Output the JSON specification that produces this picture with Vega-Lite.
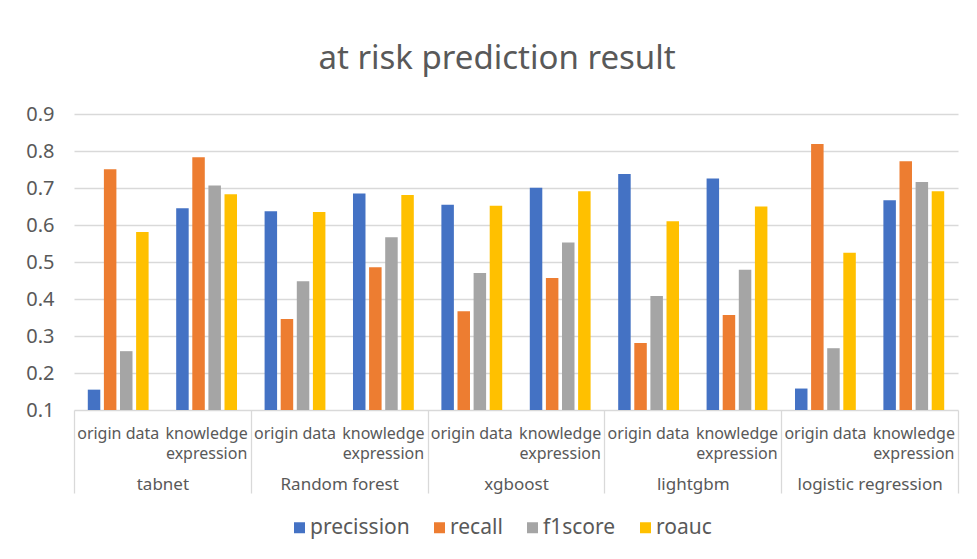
{
  "$schema": "https://vega.github.io/schema/vega-lite/v6.json",
  "width": 884,
  "height": 296,
  "autosize": {"type": "none"},
  "padding": {"left": 74, "top": 114, "right": 19, "bottom": 149},
  "background": "white",
  "config": {
    "font": "Noto Sans",
    "view": {"stroke": null}
  },
  "title": {
    "text": "at risk prediction result",
    "fontSize": 33,
    "fontWeight": "normal",
    "color": "#595959",
    "font": "Noto Sans",
    "anchor": "middle",
    "offset": 28,
    "dx": -19
  },
  "data": {
    "values": [
      {"model": "tabnet", "category": "tabnet|origin data", "metric": "precission", "value": 0.155},
      {"model": "tabnet", "category": "tabnet|origin data", "metric": "recall", "value": 0.751},
      {"model": "tabnet", "category": "tabnet|origin data", "metric": "f1score", "value": 0.259},
      {"model": "tabnet", "category": "tabnet|origin data", "metric": "roauc", "value": 0.581},
      {"model": "tabnet", "category": "tabnet|knowledge expression", "metric": "precission", "value": 0.645},
      {"model": "tabnet", "category": "tabnet|knowledge expression", "metric": "recall", "value": 0.783},
      {"model": "tabnet", "category": "tabnet|knowledge expression", "metric": "f1score", "value": 0.707},
      {"model": "tabnet", "category": "tabnet|knowledge expression", "metric": "roauc", "value": 0.683},
      {"model": "Random forest", "category": "Random forest|origin data", "metric": "precission", "value": 0.637},
      {"model": "Random forest", "category": "Random forest|origin data", "metric": "recall", "value": 0.346},
      {"model": "Random forest", "category": "Random forest|origin data", "metric": "f1score", "value": 0.448},
      {"model": "Random forest", "category": "Random forest|origin data", "metric": "roauc", "value": 0.635},
      {"model": "Random forest", "category": "Random forest|knowledge expression", "metric": "precission", "value": 0.685},
      {"model": "Random forest", "category": "Random forest|knowledge expression", "metric": "recall", "value": 0.486},
      {"model": "Random forest", "category": "Random forest|knowledge expression", "metric": "f1score", "value": 0.567},
      {"model": "Random forest", "category": "Random forest|knowledge expression", "metric": "roauc", "value": 0.681},
      {"model": "xgboost", "category": "xgboost|origin data", "metric": "precission", "value": 0.655},
      {"model": "xgboost", "category": "xgboost|origin data", "metric": "recall", "value": 0.367},
      {"model": "xgboost", "category": "xgboost|origin data", "metric": "f1score", "value": 0.470},
      {"model": "xgboost", "category": "xgboost|origin data", "metric": "roauc", "value": 0.652},
      {"model": "xgboost", "category": "xgboost|knowledge expression", "metric": "precission", "value": 0.701},
      {"model": "xgboost", "category": "xgboost|knowledge expression", "metric": "recall", "value": 0.457},
      {"model": "xgboost", "category": "xgboost|knowledge expression", "metric": "f1score", "value": 0.553},
      {"model": "xgboost", "category": "xgboost|knowledge expression", "metric": "roauc", "value": 0.691},
      {"model": "lightgbm", "category": "lightgbm|origin data", "metric": "precission", "value": 0.738},
      {"model": "lightgbm", "category": "lightgbm|origin data", "metric": "recall", "value": 0.281},
      {"model": "lightgbm", "category": "lightgbm|origin data", "metric": "f1score", "value": 0.408},
      {"model": "lightgbm", "category": "lightgbm|origin data", "metric": "roauc", "value": 0.610},
      {"model": "lightgbm", "category": "lightgbm|knowledge expression", "metric": "precission", "value": 0.726},
      {"model": "lightgbm", "category": "lightgbm|knowledge expression", "metric": "recall", "value": 0.357},
      {"model": "lightgbm", "category": "lightgbm|knowledge expression", "metric": "f1score", "value": 0.479},
      {"model": "lightgbm", "category": "lightgbm|knowledge expression", "metric": "roauc", "value": 0.650},
      {"model": "logistic regression", "category": "logistic regression|origin data", "metric": "precission", "value": 0.158},
      {"model": "logistic regression", "category": "logistic regression|origin data", "metric": "recall", "value": 0.819},
      {"model": "logistic regression", "category": "logistic regression|origin data", "metric": "f1score", "value": 0.267},
      {"model": "logistic regression", "category": "logistic regression|origin data", "metric": "roauc", "value": 0.525},
      {"model": "logistic regression", "category": "logistic regression|knowledge expression", "metric": "precission", "value": 0.667},
      {"model": "logistic regression", "category": "logistic regression|knowledge expression", "metric": "recall", "value": 0.772},
      {"model": "logistic regression", "category": "logistic regression|knowledge expression", "metric": "f1score", "value": 0.716},
      {"model": "logistic regression", "category": "logistic regression|knowledge expression", "metric": "roauc", "value": 0.691}
    ]
  },
  "layer": [
    {
      "mark": {"type": "bar"},
      "encoding": {
        "x": {
          "field": "category",
          "type": "nominal",
          "sort": null,
          "scale": {"paddingInner": 0.312, "paddingOuter": 0.156},
          "axis": {
            "orient": "bottom",
            "title": null,
            "domain": false,
            "ticks": false,
            "labelAngle": 0,
            "labelOverlap": false,
            "labelFontSize": 16,
            "labelColor": "#595959",
            "labelPadding": 15,
            "labelLineHeight": 20,
            "labelExpr": "indexof(datum.value, 'knowledge') >= 0 ? ['knowledge', 'expression'] : 'origin data'"
          }
        },
        "xOffset": {
          "field": "metric",
          "type": "nominal",
          "scale": {"domain": ["precission", "recall", "f1score", "roauc"], "paddingInner": 0.224, "paddingOuter": 0}
        },
        "y": {
          "field": "value",
          "type": "quantitative",
          "scale": {"domain": [0.1, 0.9], "zero": false, "nice": false},
          "axis": {
            "title": null,
            "values": [0.1, 0.2, 0.3, 0.4, 0.5, 0.6, 0.7, 0.8, 0.9],
            "format": ".1f",
            "domain": false,
            "ticks": false,
            "grid": true,
            "gridColor": "#d9d9d9",
            "gridWidth": 1.3,
            "labelOverlap": false,
            "labelFontSize": 20,
            "labelColor": "#595959",
            "labelPadding": 20
          }
        },
        "y2": {"datum": 0.1},
        "color": {
          "field": "metric",
          "type": "nominal",
          "scale": {
            "domain": ["precission", "recall", "f1score", "roauc"],
            "range": ["#4472C4", "#ED7D31", "#A5A5A5", "#FFC000"]
          },
          "legend": {
            "title": null,
            "orient": "none",
            "direction": "horizontal",
            "legendX": 215,
            "legendY": 403,
            "symbolType": "square",
            "symbolSize": 121,
            "symbolStrokeWidth": 0,
            "symbolOpacity": 1,
            "labelFontSize": 21,
            "labelColor": "#595959",
            "labelOffset": 0,
            "columnPadding": 19
          }
        }
      }
    },
    {
      "mark": {"type": "point", "opacity": 0},
      "encoding": {
        "x": {
          "field": "model",
          "type": "nominal",
          "sort": null,
          "scale": {"type": "band", "paddingInner": 0, "paddingOuter": 0},
          "axis": {
            "orient": "bottom",
            "title": null,
            "domain": false,
            "ticks": true,
            "tickBand": "extent",
            "tickSize": 83,
            "tickColor": "#d9d9d9",
            "tickWidth": 1.3,
            "labelAngle": 0,
            "labelOverlap": false,
            "labelFontSize": 17,
            "labelColor": "#595959",
            "labelPadding": -17
          }
        },
        "y": {
          "field": "value",
          "type": "quantitative",
          "axis": {
            "title": null,
            "values": [0.1, 0.2, 0.3, 0.4, 0.5, 0.6, 0.7, 0.8, 0.9],
            "format": ".1f",
            "domain": false,
            "ticks": false,
            "grid": true,
            "gridColor": "#d9d9d9",
            "gridWidth": 1.3,
            "labelOverlap": false,
            "labelFontSize": 20,
            "labelColor": "#595959",
            "labelPadding": 20
          }
        }
      }
    }
  ],
  "resolve": {"scale": {"x": "independent"}, "axis": {"x": "independent"}}
}
